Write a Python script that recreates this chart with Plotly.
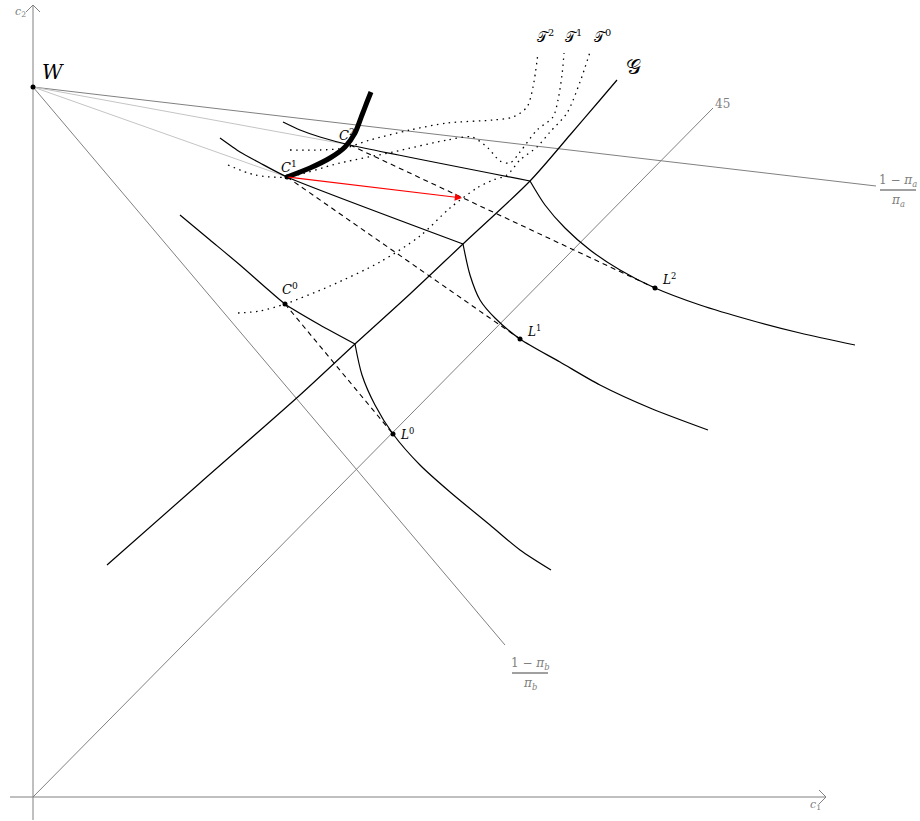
import plotly.graph_objects as go

# ---- key points (c1, c2) ----
W = (0.0, 7.10)
C0 = (2.52, 4.93)
C1 = (2.54, 6.20)
C2 = (3.17, 6.52)
L0 = (3.60, 3.63)
L1 = (4.87, 4.58)
L2 = (6.22, 5.09)
K0 = (3.22, 4.53)
K1 = (4.30, 5.53)
K2 = (4.97, 6.16)
red_end = (4.29, 5.99)

# budget / price lines from W
pi_a_end = (8.43, 6.11)
pi_b_end = (4.72, 1.52)
line45_end = (6.80, 6.89)

# indifference curves (left part ends at kink on G, right part starts there)
ic2_left_x = [2.50, 2.67, 2.87, 3.17, 4.97]
ic2_left_y = [6.75, 6.67, 6.60, 6.52, 6.16]
ic2_right_x = [4.97, 5.12, 5.32, 5.57, 5.87, 6.22, 6.67, 7.17, 7.67, 8.22]
ic2_right_y = [6.16, 5.92, 5.69, 5.47, 5.27, 5.09, 4.92, 4.77, 4.64, 4.52]

ic1_left_x = [1.87, 2.07, 2.27, 2.54, 4.30]
ic1_left_y = [6.59, 6.45, 6.34, 6.20, 5.53]
ic1_right_x = [4.30, 4.37, 4.47, 4.62, 4.87, 5.27, 5.67, 6.17, 6.75]
ic1_right_y = [5.53, 5.22, 4.97, 4.79, 4.58, 4.35, 4.12, 3.89, 3.67]

ic0_left_x = [1.47, 1.77, 2.07, 2.32, 2.52, 2.87, 3.22]
ic0_left_y = [5.82, 5.57, 5.32, 5.10, 4.93, 4.72, 4.53]
ic0_right_x = [3.22, 3.29, 3.42, 3.60, 3.87, 4.17, 4.57, 4.87, 5.18]
ic0_right_y = [4.53, 4.22, 3.92, 3.63, 3.32, 3.05, 2.72, 2.47, 2.27]

# locus G through the kinks
g_x = [0.74, 1.67, 2.67, 3.22, 3.77, 4.30, 4.97, 5.37, 5.67, 5.84]
g_y = [2.32, 3.14, 4.02, 4.53, 5.03, 5.53, 6.16, 6.62, 6.97, 7.17]

# thick path starting at C1
thick_x = [2.54, 2.77, 2.97, 3.12, 3.22, 3.29, 3.34, 3.38]
thick_y = [6.20, 6.29, 6.39, 6.50, 6.64, 6.82, 6.95, 7.05]

# dotted curves T0, T1, T2
t2_x = [2.57, 2.87, 3.12, 3.37, 3.77, 4.14, 4.60, 4.80, 4.94, 5.00, 5.05]
t2_y = [6.47, 6.47, 6.49, 6.57, 6.67, 6.74, 6.77, 6.80, 6.90, 7.10, 7.44]
t1_x = [1.95, 2.22, 2.54, 3.07, 3.60, 4.14, 4.39, 4.55, 4.67, 4.77, 4.87, 5.04, 5.20, 5.25, 5.29, 5.31]
t1_y = [6.32, 6.22, 6.20, 6.34, 6.45, 6.57, 6.60, 6.49, 6.36, 6.34, 6.45, 6.67, 6.80, 6.97, 7.22, 7.44]
t0_x = [2.05, 2.27, 2.52, 2.97, 3.47, 3.87, 4.17, 4.44, 4.60, 4.74, 4.87, 5.04, 5.17, 5.34, 5.47, 5.57]
t0_y = [4.84, 4.86, 4.93, 5.11, 5.35, 5.61, 5.89, 6.09, 6.17, 6.22, 6.37, 6.50, 6.65, 6.84, 7.15, 7.45]

# axis extents
x_axis = (-0.23, 7.93)
y_axis = (-0.23, 7.92)

SERIF = "DejaVu Serif"
GRAY = "#808080"
LIGHT = "#c4c4c4"
DASH = "5px,4px"
DOT = "1.5px,4.5px"

fig = go.Figure()


def seg(xs, ys, color="black", width=1.2, dash="solid", shape="linear", smooth=None):
    line = dict(color=color, width=width, dash=dash, shape=shape)
    if smooth is not None:
        line["smoothing"] = smooth
    fig.add_trace(go.Scatter(x=xs, y=ys, mode="lines", line=line,
                             hoverinfo="skip", showlegend=False))


# axes
seg([x_axis[0], x_axis[1]], [0, 0], color=GRAY, width=1)
seg([0, 0], [y_axis[0], y_axis[1]], color=GRAY, width=1)
ah = 0.07
seg([x_axis[1] - ah, x_axis[1], x_axis[1] - ah], [ah, 0, -ah], color=GRAY, width=1)
seg([-ah, 0, ah], [y_axis[1] - ah, y_axis[1], y_axis[1] - ah], color=GRAY, width=1)

# 45 degree line and the lines through W
seg([0, line45_end[0]], [0, line45_end[1]], color=GRAY, width=1)
seg([W[0], pi_a_end[0]], [W[1], pi_a_end[1]], color=GRAY, width=1)
seg([W[0], pi_b_end[0]], [W[1], pi_b_end[1]], color=GRAY, width=1)
seg([W[0], C2[0]], [W[1], C2[1]], color=LIGHT, width=1)
seg([W[0], C1[0]], [W[1], C1[1]], color=LIGHT, width=1)

# dotted curves
for tx, ty in [(t2_x, t2_y), (t1_x, t1_y), (t0_x, t0_y)]:
    seg(tx, ty, width=1.3, dash=DOT, shape="spline", smooth=0.8)

# indifference curves
for lx, ly, rx, ry in [(ic2_left_x, ic2_left_y, ic2_right_x, ic2_right_y),
                       (ic1_left_x, ic1_left_y, ic1_right_x, ic1_right_y),
                       (ic0_left_x, ic0_left_y, ic0_right_x, ic0_right_y)]:
    seg(lx, ly, width=1.2, shape="spline", smooth=0.6)
    seg(rx, ry, width=1.2, shape="spline", smooth=0.8)

# G locus
seg(g_x, g_y, width=1.2, shape="spline", smooth=0.8)

# dashed links C -> L
for c, l in [(C0, L0), (C1, L1), (C2, L2)]:
    seg([c[0], l[0]], [c[1], l[1]], width=1.1, dash=DASH)

# thick path
seg(thick_x, thick_y, width=5, shape="spline", smooth=0.8)

# red arrow
fig.add_annotation(x=red_end[0], y=red_end[1], ax=C1[0], ay=C1[1],
                   xref="x", yref="y", axref="x", ayref="y", text="",
                   showarrow=True, arrowhead=2, arrowsize=1.2, arrowwidth=1.2,
                   arrowcolor="red", standoff=0)

# dots
pts = [W, C0, C1, L0, L1, L2]
fig.add_trace(go.Scatter(x=[p[0] for p in pts], y=[p[1] for p in pts], mode="markers",
                         marker=dict(color="black", size=5), hoverinfo="skip",
                         showlegend=False))


def label(x, y, text, size=12, color="black", xanchor="center", yanchor="middle"):
    fig.add_annotation(x=x, y=y, text=text, showarrow=False,
                       font=dict(family=SERIF, size=size, color=color),
                       xanchor=xanchor, yanchor=yanchor)


label(W[0] + 0.07, W[1] + 0.15, "<i>W</i>", size=20, xanchor="left")
label(C0[0] + 0.05, C0[1] + 0.15, "<i>C</i><sup>0</sup>", size=13)
label(C1[0] + 0.02, C1[1] + 0.10, "<i>C</i><sup>1</sup>", size=13)
label(C2[0] - 0.03, C2[1] + 0.10, "<i>C</i><sup>2</sup>", size=13)
label(L0[0] + 0.05, L0[1], "<i>L</i><sup>0</sup>", size=12, xanchor="left")
label(L1[0] + 0.05, L1[1] + 0.08, "<i>L</i><sup>1</sup>", size=12, xanchor="left")
label(L2[0] + 0.05, L2[1] + 0.09, "<i>L</i><sup>2</sup>", size=12, xanchor="left")
label(5.12, 7.61, "𝒯<sup>2</sup>", size=14)
label(5.40, 7.61, "𝒯<sup>1</sup>", size=14)
label(5.69, 7.61, "𝒯<sup>0</sup>", size=14)
label(6.00, 7.30, "𝒢", size=21)
label(line45_end[0] + 0.09, line45_end[1] + 0.04, "45", size=12, color=GRAY)
label(-0.13, 7.85, "<i>c</i><sub>2</sub>", size=11, color=GRAY)
label(7.82, -0.08, "<i>c</i><sub>1</sub>", size=11, color=GRAY)


def fraction(xc, yc, sub, half=0.18):
    label(xc, yc + 0.09, "1 − <i>π</i><sub><i>" + sub + "</i></sub>", size=12, color=GRAY)
    label(xc, yc - 0.11, "<i>π</i><sub><i>" + sub + "</i></sub>", size=12, color=GRAY)
    fig.add_shape(type="line", x0=xc - half, x1=xc + half, y0=yc, y1=yc,
                  line=dict(color=GRAY, width=1.6))


fraction(8.65, 6.07, "a")
fraction(4.97, 1.24, "b")

fig.update_layout(
    width=920, height=821,
    margin=dict(l=0, r=0, t=0, b=0),
    paper_bgcolor="white", plot_bgcolor="white",
    xaxis=dict(range=[-0.33, 8.87], visible=False, fixedrange=True),
    yaxis=dict(range=[-0.24, 7.97], visible=False, fixedrange=True),
)

fig.write_html("out.html")
